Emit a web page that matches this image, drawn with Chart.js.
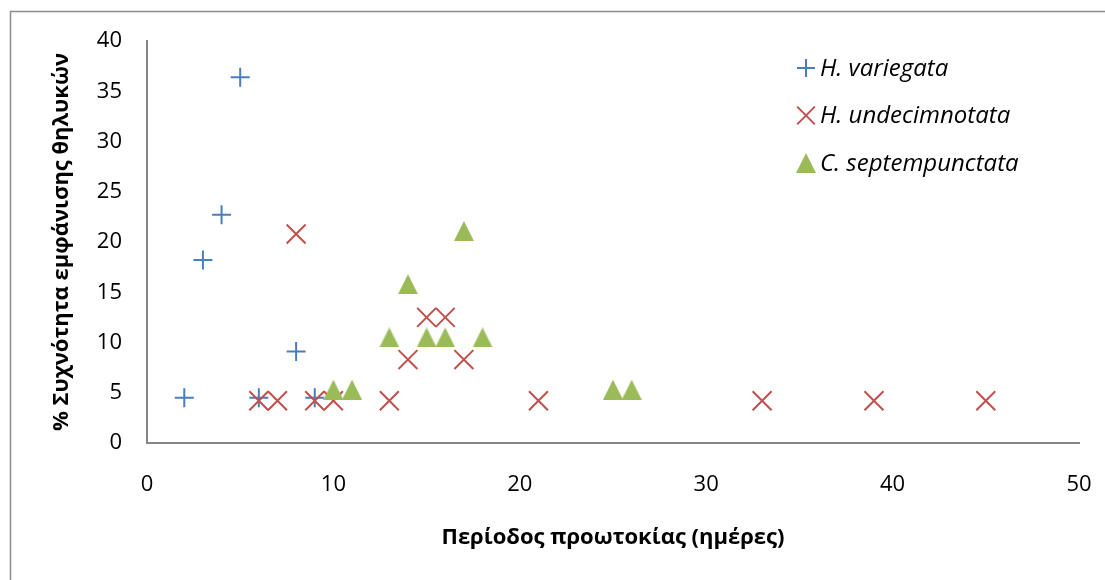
<!DOCTYPE html>
<html>
<head>
<meta charset="utf-8">
<script src="https://cdn.jsdelivr.net/npm/chart.js@4.4.1/dist/chart.umd.min.js"></script>
<style>
  html, body { margin: 0; padding: 0; background: #fff; }
  #wrap { width: 1105px; height: 580px; position: relative; }
</style>
</head>
<body>
<div id="wrap"><canvas id="chart" width="1105" height="580"></canvas></div>
<script>
  // Data (x = days, y = %)
  const variegataX = [2, 3, 4, 5, 6, 8, 9];
  const variegataY = [4.5, 18.2, 22.7, 36.4, 4.5, 9.1, 4.5];

  const undecimX = [6, 7, 8, 9, 10, 13, 14, 15, 16, 17, 21, 33, 39, 45];
  const undecimY = [4.2, 4.2, 20.8, 4.2, 4.2, 4.2, 8.3, 12.5, 12.5, 8.3, 4.2, 4.2, 4.2, 4.2];

  const septemX = [10, 11, 13, 14, 15, 16, 17, 18, 25, 26];
  const septemY = [5.3, 5.3, 10.5, 15.8, 10.5, 10.5, 21.1, 10.5, 5.3, 5.3];

  const seriesNames = ['H. variegata', 'H. undecimnotata', 'C. septempunctata'];
  const seriesColors = ['#4A7EBB', '#C0504D', '#9BBB59'];

  const xTicks = [0, 10, 20, 30, 40, 50];
  const yTicks = [0, 5, 10, 15, 20, 25, 30, 35, 40];

  const xTitle = 'Περίοδος προωτοκίας (ημέρες)';
  const yTitle = '% Συχνότητα εμφάνισης θηλυκών';

  const FONT = "'Open Sans', 'Noto Sans', sans-serif";

  function toPoints(xs, ys) {
    return xs.map((x, i) => ({ x: x, y: ys[i] }));
  }

  // Excel-like wide triangle marker
  function makeTriangle(color) {
    const c = document.createElement('canvas');
    c.width = 20; c.height = 20;
    const g = c.getContext('2d');
    g.fillStyle = color;
    g.beginPath();
    g.moveTo(10, 0);
    g.lineTo(20, 20);
    g.lineTo(0, 20);
    g.closePath();
    g.fill();
    return c;
  }
  const triangle = makeTriangle(seriesColors[2]);

  // Frame round the chart (only left and top edges are visible)
  const framePlugin = {
    id: 'frame',
    beforeDraw(chart) {
      const ctx = chart.ctx;
      ctx.save();
      ctx.strokeStyle = '#8c8c8c';
      ctx.lineWidth = 1.5;
      ctx.beginPath();
      ctx.moveTo(10.5, 600);
      ctx.lineTo(10.5, 11.5);
      ctx.lineTo(1200, 11.5);
      ctx.stroke();
      ctx.restore();
    }
  };

  // Vertical legend inside the plot, top right
  const legendPlugin = {
    id: 'sideLegend',
    afterDraw(chart) {
      const ctx = chart.ctx;
      const mx = 806, y0 = 68, step = 47.5;
      ctx.save();
      chart.data.datasets.forEach((ds, i) => {
        const y = y0 + i * step;
        ctx.strokeStyle = ds.borderColor;
        ctx.fillStyle = ds.backgroundColor;
        ctx.lineWidth = ds.pointBorderWidth;
        Chart.helpers.drawPoint(ctx, {
          pointStyle: ds.pointStyle,
          radius: ds.legendRadius,
          borderWidth: ds.pointBorderWidth,
          rotation: 0
        }, mx, y);
        ctx.fillStyle = '#000';
        ctx.font = 'italic 24px ' + FONT;
        ctx.textBaseline = 'middle';
        ctx.textAlign = 'left';
        ctx.fillText(ds.label, 820, y + 1);
      });
      ctx.restore();
    }
  };

  new Chart(document.getElementById('chart'), {
    type: 'scatter',
    data: {
      datasets: [
        {
          label: seriesNames[0],
          data: toPoints(variegataX, variegataY),
          pointStyle: 'cross',
          pointRadius: 9.5,
          pointHoverRadius: 9.5,
          legendRadius: 9,
          pointBorderWidth: 2,
          borderColor: seriesColors[0],
          backgroundColor: seriesColors[0],
          order: 3
        },
        {
          label: seriesNames[1],
          data: toPoints(undecimX, undecimY),
          pointStyle: 'crossRot',
          pointRadius: 13.4,
          pointHoverRadius: 13.4,
          legendRadius: 12.5,
          pointBorderWidth: 2,
          borderColor: seriesColors[1],
          backgroundColor: seriesColors[1],
          order: 2
        },
        {
          label: seriesNames[2],
          data: toPoints(septemX, septemY),
          pointStyle: triangle,
          pointRadius: 10,
          pointHoverRadius: 10,
          legendRadius: 10,
          pointBorderWidth: 0,
          borderColor: seriesColors[2],
          backgroundColor: seriesColors[2],
          order: 1
        }
      ]
    },
    options: {
      responsive: false,
      animation: false,
      events: [],
      layout: { padding: { left: 0, right: 26, top: 41, bottom: 0 } },
      plugins: {
        legend: { display: false },
        tooltip: { enabled: false }
      },
      scales: {
        x: {
          type: 'linear',
          min: 0,
          max: 50,
          afterBuildTicks(axis) { axis.ticks = xTicks.map(v => ({ value: v })); },
          afterFit(axis) { axis.height = 137; },
          // invisible tick marks give the gap under the axis
          grid: {
            display: true,
            drawOnChartArea: false,
            drawTicks: true,
            tickLength: 29,
            color: 'rgba(0,0,0,0)'
          },
          border: { display: true, color: '#868686', width: 2 },
          ticks: {
            color: '#000',
            padding: 0,
            maxRotation: 0,
            font: { family: FONT, size: 22 }
          },
          title: {
            display: true,
            text: xTitle,
            color: '#000',
            font: { family: FONT, size: 22, weight: 'bold' },
            padding: { top: 0, bottom: 29 }
          }
        },
        y: {
          type: 'linear',
          min: 0,
          max: 40,
          afterBuildTicks(axis) { axis.ticks = yTicks.map(v => ({ value: v })); },
          afterFit(axis) { axis.width = 147; },
          grid: { display: false, drawTicks: false, tickLength: 0 },
          border: { display: true, color: '#868686', width: 2 },
          ticks: {
            color: '#000',
            padding: 25,
            font: { family: FONT, size: 22 }
          },
          title: {
            display: true,
            text: yTitle,
            color: '#000',
            font: { family: FONT, size: 22, weight: 'bold' },
            padding: { top: 49, bottom: 0 }
          }
        }
      }
    },
    plugins: [framePlugin, legendPlugin]
  });
</script>
</body>
</html>
